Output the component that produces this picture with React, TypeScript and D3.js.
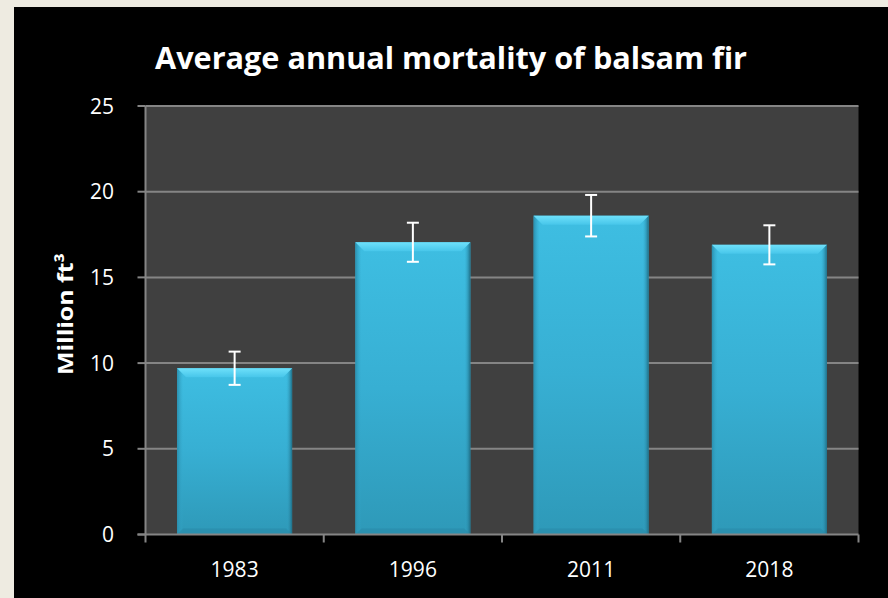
import React from "react";
import * as d3 from "d3";

const categories = ["1983", "1996", "2011", "2018"];
const values = [9.7, 17.05, 18.6, 16.9];
const errors = [0.97, 1.14, 1.21, 1.14];
const yTicks = [0, 5, 10, 15, 20, 25];
const titleText = "Average annual mortality of balsam fir";

const W = 888;
const H = 598;
const plot = { left: 145.5, right: 858.5, top: 106, bottom: 534.5 };

export default function App() {
  const x = d3.scaleBand<string>().domain(categories).range([plot.left, plot.right]).padding(0);
  const y = d3.scaleLinear().domain([0, 25]).range([plot.bottom, plot.top]);
  const barW = x.bandwidth() * 0.645;
  const boundaries = [...categories.map((c) => x(c) as number), plot.right];
  const font = "'Open Sans', 'DejaVu Sans', sans-serif";

  return (
    <div style={{ position: "absolute", left: 0, top: 0 }}>
      <svg width={W} height={H} style={{ display: "block" }}>
        <defs>
          <linearGradient id="barMain" x1="0" y1="0" x2="0" y2="1">
            <stop offset="0" stopColor="#3EBEE2" />
            <stop offset="0.5" stopColor="#37AFD3" />
            <stop offset="1" stopColor="#2E99B8" />
          </linearGradient>
          <linearGradient id="barTop" x1="0" y1="0" x2="0" y2="1">
            <stop offset="0" stopColor="#6EE0FA" />
            <stop offset="1" stopColor="#47C6EA" />
          </linearGradient>
          <linearGradient id="barSideL" x1="0" y1="0" x2="1" y2="0">
            <stop offset="0" stopColor="#2A8FAE" />
            <stop offset="1" stopColor="#35A9CC" stopOpacity="0" />
          </linearGradient>
          <linearGradient id="barSideR" x1="0" y1="0" x2="1" y2="0">
            <stop offset="0" stopColor="#35A9CC" stopOpacity="0" />
            <stop offset="1" stopColor="#1F6E86" />
          </linearGradient>
        </defs>
        <rect x={0} y={0} width={W} height={H} fill="#EEEBE1" />
        <rect x={14} y={7} width={W - 14} height={H - 7} fill="#000000" />

        <text
          x={451}
          y={69}
          textAnchor="middle"
          fill="#FFFFFF"
          fontFamily={font}
          fontWeight="bold"
          fontSize={31}
          textLength={592}
          lengthAdjust="spacingAndGlyphs"
        >
          {titleText}
        </text>

        <rect
          x={plot.left}
          y={plot.top}
          width={plot.right - plot.left}
          height={plot.bottom - plot.top}
          fill="#404040"
        />

        {yTicks.map((t) => (
          <g key={t}>
            {t > 0 && (
              <line x1={plot.left} x2={plot.right} y1={y(t)} y2={y(t)} stroke="#858585" strokeWidth={2} />
            )}
            <line x1={plot.left - 8} x2={plot.left} y1={y(t)} y2={y(t)} stroke="#858585" strokeWidth={2} />
            <text
              x={114}
              y={y(t)}
              dy="0.36em"
              textAnchor="end"
              fill="#FFFFFF"
              fontFamily={font}
              fontSize={21}
            >
              {t}
            </text>
          </g>
        ))}

        {categories.map((c, i) => {
          const cx = (x(c) as number) + x.bandwidth() / 2;
          const x0 = cx - barW / 2;
          const yt = y(values[i]);
          const yb = y(0);
          const h = yb - yt;
          const bev = 9;
          return (
            <g key={c}>
              <rect x={x0} y={yt} width={barW} height={h} fill="url(#barMain)" />
              <rect x={x0} y={yt} width={6} height={h} fill="url(#barSideL)" />
              <rect x={x0 + barW - 6} y={yt} width={6} height={h} fill="url(#barSideR)" />
              <polygon
                points={`${x0},${yt} ${x0 + barW},${yt} ${x0 + barW - bev},${yt + bev} ${x0 + bev},${yt + bev}`}
                fill="url(#barTop)"
              />
              <polygon
                points={`${x0},${yb} ${x0 + barW},${yb} ${x0 + barW - 6},${yb - 6} ${x0 + 6},${yb - 6}`}
                fill="#2A8BA8"
                opacity={0.6}
              />
            </g>
          );
        })}

        {categories.map((c, i) => {
          const cx = (x(c) as number) + x.bandwidth() / 2;
          const y1 = y(values[i] + errors[i]);
          const y2 = y(values[i] - errors[i]);
          return (
            <g key={"e" + c} stroke="#FFFFFF" strokeWidth={2}>
              <line x1={cx} x2={cx} y1={y1} y2={y2} />
              <line x1={cx - 6} x2={cx + 6} y1={y1} y2={y1} />
              <line x1={cx - 6} x2={cx + 6} y1={y2} y2={y2} />
            </g>
          );
        })}

        <line x1={plot.left} x2={plot.left} y1={plot.top} y2={plot.bottom} stroke="#858585" strokeWidth={2} />
        <line x1={plot.left - 8} x2={plot.right} y1={plot.bottom} y2={plot.bottom} stroke="#858585" strokeWidth={2} />
        {boundaries.map((b, i) => (
          <line key={i} x1={b} x2={b} y1={plot.bottom} y2={plot.bottom + 8} stroke="#858585" strokeWidth={2} />
        ))}

        {categories.map((c) => (
          <text
            key={"l" + c}
            x={(x(c) as number) + x.bandwidth() / 2}
            y={577}
            textAnchor="middle"
            fill="#FFFFFF"
            fontFamily={font}
            fontSize={21}
          >
            {c}
          </text>
        ))}

        <text
          transform={`translate(73, 314) rotate(-90)`}
          textAnchor="middle"
          fill="#FFFFFF"
          fontFamily={font}
          fontWeight="bold"
          fontSize={22}
          textLength={122}
          lengthAdjust="spacingAndGlyphs"
        >
          Million ft³
        </text>
      </svg>
    </div>
  );
}
